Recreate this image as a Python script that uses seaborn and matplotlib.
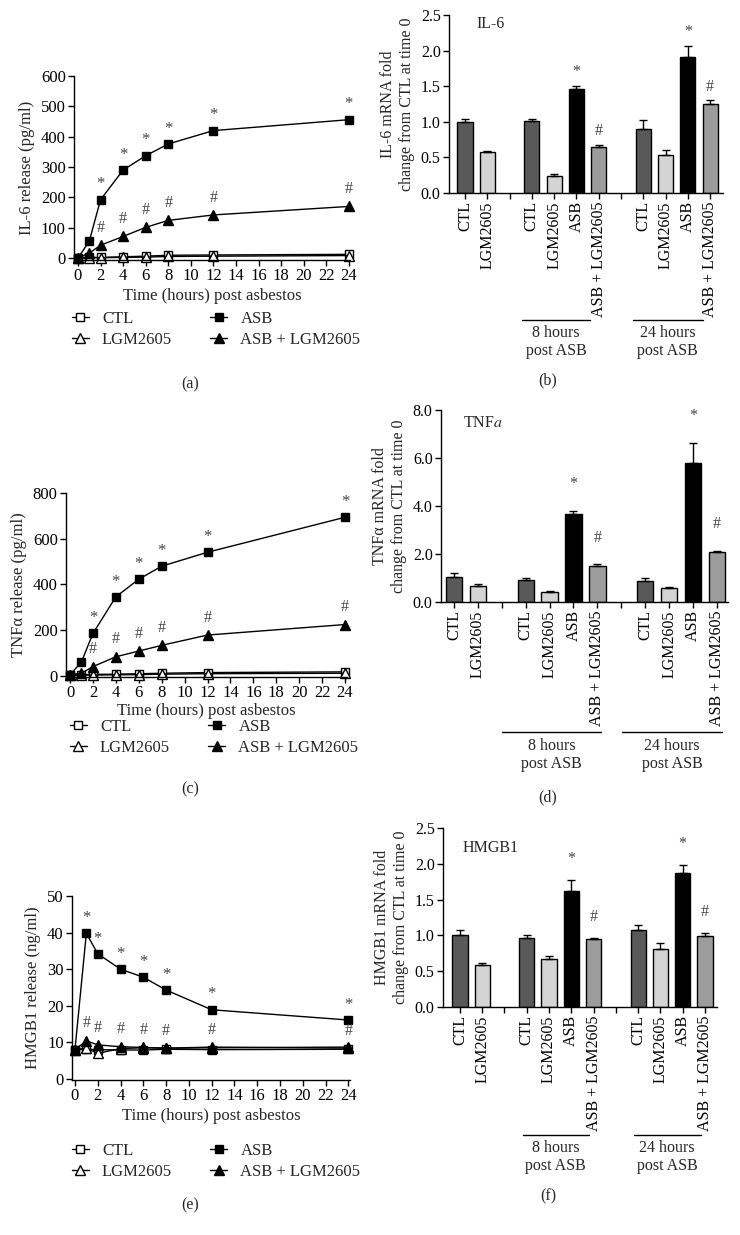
import numpy as np
import pandas as pd
import matplotlib
matplotlib.use("Agg")
import matplotlib.pyplot as plt
from matplotlib.transforms import blended_transform_factory
import seaborn as sns

# ---------------- data ----------------
time_h = [0, 1, 2, 4, 6, 8, 12, 24]
line_series = ["CTL", "LGM2605", "ASB", "ASB + LGM2605"]

il6_ctl = [0, 2, 2, 4, 6, 9, 10, 12]
il6_lgm = [0, 1, 1, 2, 3, 5, 6, 8]
il6_asb = [0, 55, 192, 290, 337, 376, 420, 456]
il6_asb_lgm = [0, 16, 42, 71, 101, 124, 142, 170]
il6_star_t = [2, 4, 6, 8, 12, 24]
il6_hash_t = [2, 4, 6, 8, 12, 24]

tnf_ctl = [5, 6, 7, 8, 10, 12, 15, 18]
tnf_lgm = [3, 4, 4, 5, 6, 8, 10, 12]
tnf_asb = [5, 62, 186, 346, 423, 480, 541, 694]
tnf_asb_lgm = [5, 12, 41, 84, 109, 134, 179, 225]
tnf_star_t = [2, 4, 6, 8, 12, 24]
tnf_hash_t = [2, 4, 6, 8, 12, 24]

hmgb_ctl = [8, 8.1, 8.0, 7.9, 7.9, 8.1, 8.0, 8.1]
hmgb_lgm = [8, 8.4, 7.0, 8.3, 8.5, 8.4, 8.5, 8.7]
hmgb_asb = [8, 39.8, 34.2, 30.0, 27.8, 24.3, 18.9, 16.1]
hmgb_asb_lgm = [8, 10.4, 9.3, 8.8, 8.6, 8.4, 8.7, 8.4]
hmgb_star_t = [1, 2, 4, 6, 8, 12, 24]
hmgb_hash_t = [1, 2, 4, 6, 8, 12, 24]

bar_groups = ["CTL", "LGM2605", "CTL", "LGM2605", "ASB", "ASB + LGM2605",
              "CTL", "LGM2605", "ASB", "ASB + LGM2605"]
bar_slots = [0, 1, 3, 4, 5, 6, 8, 9, 10, 11]
bar_marks = ["", "", "", "", "*", "#", "", "", "*", "#"]

il6_mrna = [1.00, 0.57, 1.01, 0.24, 1.46, 0.65, 0.90, 0.54, 1.91, 1.25]
il6_mrna_err = [0.04, 0.02, 0.03, 0.03, 0.04, 0.03, 0.12, 0.07, 0.15, 0.05]

tnf_mrna = [1.04, 0.65, 0.90, 0.42, 3.68, 1.50, 0.89, 0.60, 5.81, 2.10]
tnf_mrna_err = [0.17, 0.11, 0.09, 0.04, 0.13, 0.08, 0.11, 0.02, 0.82, 0.03]

hmgb_mrna = [1.00, 0.58, 0.97, 0.675, 1.62, 0.946, 1.07, 0.815, 1.87, 0.99]
hmgb_mrna_err = [0.07, 0.04, 0.03, 0.035, 0.15, 0.015, 0.07, 0.085, 0.11, 0.04]

group_titles = ["8 hours\npost ASB", "24 hours\npost ASB"]

# ---------------- style ----------------
sns.set_theme(style="ticks")
plt.rcParams["font.family"] = ["Liberation Serif", "DejaVu Serif"]
plt.rcParams["mathtext.fontset"] = "stix"
plt.rcParams["axes.linewidth"] = 1.0

W, H = 740, 1235
fig = plt.figure(figsize=(W / 100, H / 100), dpi=100)
FS = 11.5
TFS = 12
ANN = "#444444"


def px_axes(left, right, top, bottom):
    return fig.add_axes([left / W, 1 - bottom / H, (right - left) / W, (bottom - top) / H])


def style_axes(ax, tfs):
    sns.despine(ax=ax)
    ax.tick_params(direction="out", length=4, width=1, labelsize=tfs, color="black",
                   labelcolor="black", pad=2)
    for s in ("left", "bottom"):
        ax.spines[s].set_color("black")


line_styles = {"CTL": ("s", "white"), "LGM2605": ("^", "white"),
               "ASB": ("s", "black"), "ASB + LGM2605": ("^", "black")}


def line_panel(ax, vals_list, xlim, ylim, yticks, ylabel, star_t, hash_t, leg_xy, xpad=3):
    for name, vals in zip(line_series, vals_list):
        m, fc = line_styles[name]
        sns.lineplot(x=time_h, y=vals, ax=ax, color="black", lw=1.0, marker=m,
                     markersize=6.5 if m == "^" else 6, markerfacecolor=fc,
                     markeredgecolor="black", markeredgewidth=1.0,
                     label=name, legend=False, clip_on=False)
    asb, asbl = vals_list[2], vals_list[3]
    for t in star_t:
        i = time_h.index(t)
        ax.annotate("*", (t, asb[i]), xytext=(0, 11), textcoords="offset points",
                    ha="center", va="center", fontsize=FS + 0.5, color=ANN)
    for t in hash_t:
        i = time_h.index(t)
        ax.annotate("#", (t, asbl[i]), xytext=(0, 12.5), textcoords="offset points",
                    ha="center", va="center", fontsize=FS, color=ANN)
    ax.set_xlim(*xlim)
    ax.set_ylim(*ylim)
    ax.set_xticks(range(0, 25, 2))
    ax.set_yticks(yticks)
    ax.set_xlabel("Time (hours) post asbestos", fontsize=FS + 0.5, labelpad=xpad)
    ax.set_ylabel(ylabel, fontsize=FS + 0.5, labelpad=4)
    style_axes(ax, TFS)
    h, l = ax.get_legend_handles_labels()
    ax.legend(h, l, ncol=2, loc="upper left", bbox_to_anchor=(leg_xy[0] / W, 1 - leg_xy[1] / H),
              bbox_transform=fig.transFigure, frameon=False, handlelength=1.0,
              handletextpad=0.8, columnspacing=2.3, labelspacing=0.3, fontsize=FS + 0.5,
              borderaxespad=0, borderpad=0)


bar_palette = {"CTL": "#595959", "LGM2605": "#d4d4d4", "ASB": "#000000",
               "ASB + LGM2605": "#9c9c9c"}


def bar_panel(ax, vals, errs, xlim, ylim, yticks, fmt, ylabel, title, title_xy,
              mark_off, line_spans, line_y):
    df = pd.DataFrame({"slot": bar_slots, "value": vals, "group": bar_groups})
    sns.barplot(data=df, x="slot", y="value", hue="group", palette=bar_palette,
                native_scale=True, dodge=False, width=0.68, errorbar=None,
                edgecolor="black", linewidth=1.0, legend=False, ax=ax)
    ax.errorbar(bar_slots, vals, yerr=[np.zeros(len(vals)), errs], fmt="none",
                ecolor="black", elinewidth=1.0, capsize=2.6, capthick=1.0, zorder=3)
    for x, v, e, mk in zip(bar_slots, vals, errs, bar_marks):
        if mk:
            ax.annotate(mk, (x, v + e), xytext=(0, mark_off), textcoords="offset points",
                        ha="center", va="center", fontsize=FS, color=ANN)
    ax.set_xlim(*xlim)
    ax.set_ylim(*ylim)
    ax.set_yticks(yticks)
    ax.set_yticklabels([fmt.format(t) for t in yticks])
    slot_label = {s: g for s, g in zip(bar_slots, bar_groups)}
    ticks = list(range(12))
    ax.set_xticks(ticks)
    ax.set_xticklabels([slot_label.get(t, "") for t in ticks], rotation=90)
    ax.set_xlabel("")
    ax.set_ylabel(ylabel, fontsize=FS, labelpad=4, linespacing=1.25)
    ax.text(title_xy[0], title_xy[1], title, transform=ax.transAxes, fontsize=FS,
            ha="left", va="center")
    style_axes(ax, FS)
    tr = blended_transform_factory(ax.transData, ax.transAxes)
    for (x0, x1), txt in zip(line_spans, group_titles):
        ax.plot([x0, x1], [line_y, line_y], color="black", lw=1.0, transform=tr,
                clip_on=False)
        ax.text((x0 + x1) / 2, line_y - 0.03, txt, transform=tr, ha="center", va="top",
                fontsize=FS, linespacing=1.15)


# ---------------- panels ----------------
ax_a = px_axes(74, 350, 76, 260)
line_panel(ax_a, [il6_ctl, il6_lgm, il6_asb, il6_asb_lgm], (-0.35, 24.1), (-6.6, 600),
           range(0, 601, 100), "IL-6 release (pg/ml)", il6_star_t, il6_hash_t, (72, 311))

ax_c = px_axes(66, 347, 493, 677)
line_panel(ax_c, [tnf_ctl, tnf_lgm, tnf_asb, tnf_asb_lgm], (-0.35, 24.17), (-4.4, 800),
           range(0, 801, 200), "TNFα release (pg/ml)", tnf_star_t, tnf_hash_t, (70, 719),
           xpad=1.5)

ax_e = px_axes(72, 350, 896, 1080)
line_panel(ax_e, [hmgb_ctl, hmgb_lgm, hmgb_asb, hmgb_asb_lgm], (-0.26, 24.15), (-0.3, 50),
           range(0, 51, 10), "HMGB1 release (ng/ml)", hmgb_star_t, hmgb_hash_t, (72, 1143))

ax_b = px_axes(449, 723, 15, 193)
bar_panel(ax_b, il6_mrna, il6_mrna_err, (-0.72, 11.58), (0, 2.5),
          [0, 0.5, 1.0, 1.5, 2.0, 2.5], "{:.1f}",
          "IL-6 mRNA fold\nchange from CTL at time 0", "IL-6", (0.1, 0.95), 10,
          [(2.56, 5.6), (7.53, 10.67)], -0.713)

ax_d = px_axes(441, 728, 410, 602)
bar_panel(ax_d, tnf_mrna, tnf_mrna_err, (-0.54, 11.46), (0, 8),
          [0, 2, 4, 6, 8], "{:.1f}",
          "TNFα mRNA fold\nchange from CTL at time 0", r"TNF$\mathit{a}$", (0.077, 0.93), 19,
          [(2.0, 6.15), (7.03, 11.2)], -0.677)

ax_f = px_axes(443, 717, 828, 1007)
bar_panel(ax_f, hmgb_mrna, hmgb_mrna_err, (-0.76, 11.54), (0, 2.5),
          [0, 0.5, 1.0, 1.5, 2.0, 2.5], "{:.1f}",
          "HMGB1 mRNA fold\nchange from CTL at time 0", "HMGB1", (0.073, 0.89), 15,
          [(2.83, 5.78), (7.8, 10.8)], -0.715)

for lab, x, y in [("(a)", 190, 384), ("(b)", 548, 380), ("(c)", 190, 789),
                  ("(d)", 548, 797), ("(e)", 190, 1205), ("(f)", 548, 1196)]:
    fig.text(x / W, 1 - y / H, lab, ha="center", va="center", fontsize=FS)

fig.savefig("out.png", dpi=100, facecolor="white")
